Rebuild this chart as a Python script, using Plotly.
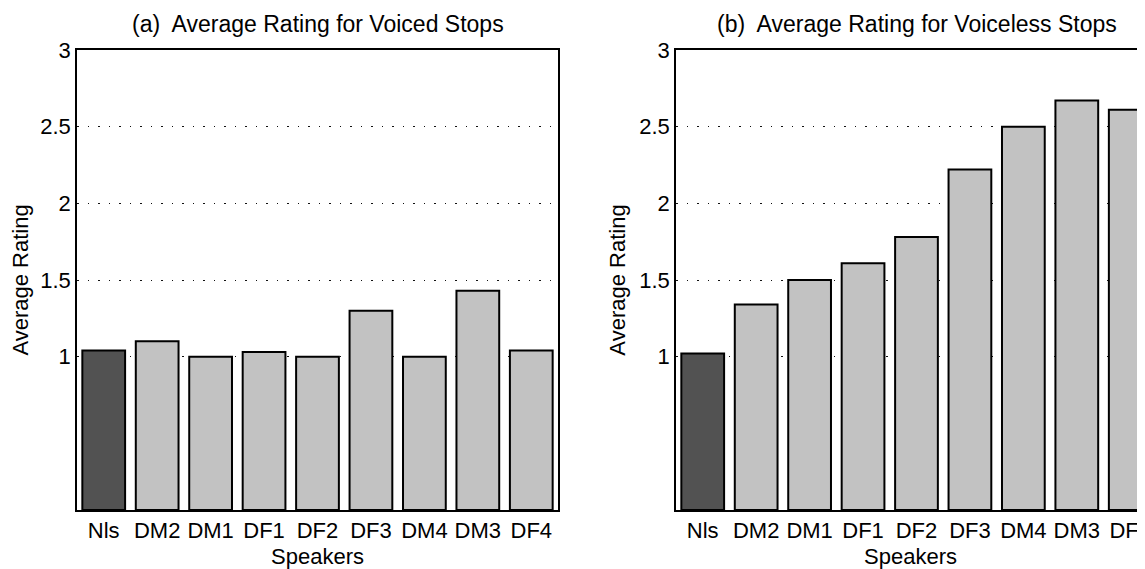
import plotly.graph_objects as go
from plotly.subplots import make_subplots

speakers = ["Nls", "DM2", "DM1", "DF1", "DF2", "DF3", "DM4", "DM3", "DF4"]
voiced = [1.04, 1.10, 1.00, 1.03, 1.00, 1.30, 1.00, 1.43, 1.04]
voiceless = [1.02, 1.34, 1.50, 1.61, 1.78, 2.22, 2.50, 2.67, 2.61]
ytick_vals = [1, 1.5, 2, 2.5, 3]
ytick_text = ["1", "1.5", "2", "2.5", "3"]
titles = ["(a)  Average Rating for Voiced Stops", "(b)  Average Rating for Voiceless Stops"]

FONT = "Liberation Sans, Arial, Helvetica, sans-serif"
# page body has an 8px margin, so the figure is drawn 8px in from the window corner
W, H = 1137, 561

fig = make_subplots(rows=1, cols=2)

dark, light = "#525252", "#c2c2c2"
colors = [dark] + [light] * (len(speakers) - 1)

for col, vals in [(1, voiced), (2, voiceless)]:
    fig.add_trace(go.Bar(
        x=list(range(len(speakers))), y=vals, width=0.8,
        marker=dict(color=colors, line=dict(color="black", width=2)),
        showlegend=False, hoverinfo="skip"), row=1, col=col)

x1 = (69 / W, 550 / W)
x2 = (668 / W, 1.0)
x2_full = (668 / W, 1149 / W)

common_x = dict(tickmode="array", tickvals=list(range(len(speakers))), ticktext=speakers,
                showline=True, linecolor="black", linewidth=1.5, mirror=True,
                showgrid=False, zeroline=False, ticks="",
                tickfont=dict(family=FONT, size=22, color="black"),
                ticklabeloverflow="allow",
                title=dict(text="Speakers", font=dict(family=FONT, size=22, color="black"), standoff=8),
                automargin=False)
fig.update_xaxes(**common_x)
fig.update_xaxes(domain=list(x1), range=[-0.5, 8.5], row=1, col=1)
fig.update_xaxes(domain=list(x2), range=[-0.5, 8.276], row=1, col=2)

common_y = dict(range=[0, 3], tickmode="array", tickvals=ytick_vals, ticktext=ytick_text,
                showline=True, linecolor="black", linewidth=1.5,
                showgrid=True, gridcolor="#111111", gridwidth=1.3, griddash="1.5px,9px",
                zeroline=False, ticks="",
                tickfont=dict(family=FONT, size=22, color="black"),
                title=dict(text="Average Rating", font=dict(family=FONT, size=22, color="black"), standoff=8),
                automargin=False)
fig.update_yaxes(**common_y)
fig.update_yaxes(mirror=True, row=1, col=1)
fig.update_yaxes(mirror=False, row=1, col=2)

for (d0, d1), t in zip([x1, x2_full], titles):
    fig.add_annotation(text=t, xref="paper", yref="paper", x=(d0 + d1) / 2, y=1,
                       xanchor="center", yanchor="bottom", yshift=11, showarrow=False,
                       font=dict(family=FONT, size=23, color="black"))

fig.update_layout(width=W, height=H, margin=dict(l=0, r=0, t=42, b=59),
                  paper_bgcolor="white", plot_bgcolor="white", bargap=0.2)

fig.write_html("out.html")
